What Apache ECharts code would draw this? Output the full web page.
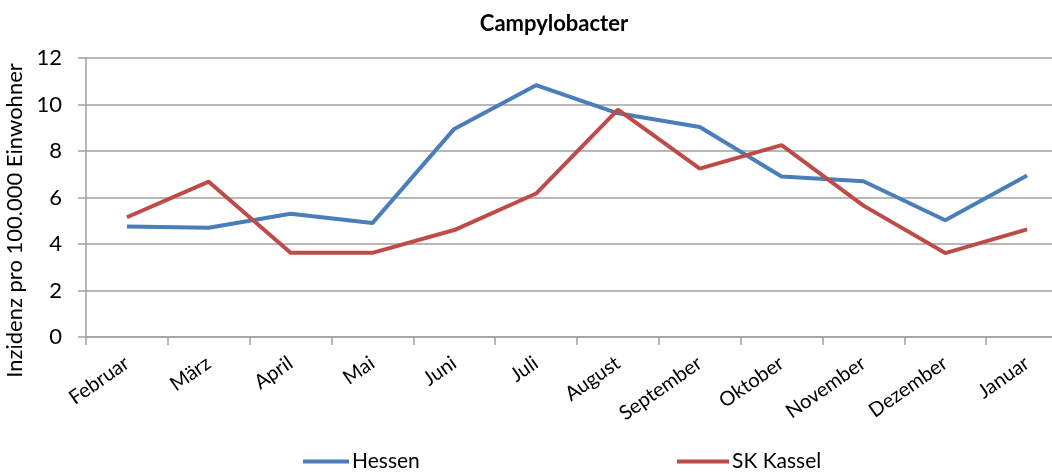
<!DOCTYPE html>
<html>
<head>
<meta charset="utf-8">
<script src="https://cdn.jsdelivr.net/npm/echarts@6/dist/echarts.min.js"></script>
<style>
  html, body { margin: 0; padding: 0; background: #fff; overflow: hidden; }
  /* the reference crops the last category on the right, so the canvas is wider than the page */
  #chart { width: 1068px; height: 472px; }
</style>
</head>
<body>
<div id="chart"></div>
<script>
var months = ['Februar', 'März', 'April', 'Mai', 'Juni', 'Juli', 'August', 'September', 'Oktober', 'November', 'Dezember', 'Januar'];
var hessen = [4.75, 4.7, 5.3, 4.9, 8.95, 10.83, 9.62, 9.03, 6.9, 6.7, 5.02, 6.95];
var kassel = [5.15, 6.68, 3.62, 3.62, 4.6, 6.17, 9.78, 7.24, 8.25, 5.65, 3.61, 4.63];
var yTicks = { min: 0, max: 12, interval: 2 };

var font = 'Lato, "Open Sans", sans-serif';
var chart = echarts.init(document.getElementById('chart'));

var option = {
    animation: false,
    textStyle: { fontFamily: font },
    title: {
        text: 'Campylobacter',
        left: 549,
        top: 8,
        textAlign: 'center',
        textStyle: { fontFamily: font, fontWeight: 'bold', fontSize: 22, color: '#000' }
    },
    legend: [{
        data: ['Hessen'],
        left: 298,
        top: 446,
        itemWidth: 46,
        itemHeight: 4,
        itemGap: 4,
        icon: 'rect',
        textStyle: { fontFamily: font, fontSize: 21, color: '#000', padding: [0, 0, 0, -2] }
    }, {
        data: ['SK Kassel'],
        left: 672,
        top: 446,
        itemWidth: 52,
        itemHeight: 4,
        icon: 'rect',
        textStyle: { fontFamily: font, fontSize: 21, color: '#000', padding: [0, 0, 0, -2] }
    }],
    grid: {
        left: 86,
        right: 0,
        top: 58,
        bottom: 135,
        outerBoundsMode: 'none'
    },
    xAxis: {
        type: 'category',
        data: months,
        boundaryGap: true,
        axisLine: { lineStyle: { color: '#a0a0a0', width: 1.5 } },
        axisTick: { show: true, length: 8, lineStyle: { color: '#a0a0a0', width: 1.5 } },
        axisLabel: {
            rotate: 35,
            margin: 24,
            fontSize: 20,
            color: '#000',
            fontFamily: font,
            interval: 0
        }
    },
    yAxis: {
        type: 'value',
        min: yTicks.min,
        max: yTicks.max,
        interval: yTicks.interval,
        name: 'Inzidenz pro 100.000 Einwohner',
        nameLocation: 'middle',
        nameGap: 58,
        nameTextStyle: { fontFamily: font, fontSize: 22, color: '#000', padding: [0, 46, 0, 0] },
        axisLine: { show: true, lineStyle: { color: '#a0a0a0', width: 1.5 } },
        axisTick: { show: true, length: 8, lineStyle: { color: '#a0a0a0', width: 1.5 } },
        axisLabel: { fontSize: 22, color: '#000', margin: 24, fontFamily: font },
        splitLine: { lineStyle: { color: '#a0a0a0', width: 1.5 } }
    },
    series: [{
        name: 'Hessen',
        type: 'line',
        data: hessen,
        symbol: 'none',
        color: '#4a7ebb',
        lineStyle: { width: 4, color: '#4a7ebb' }
    }, {
        name: 'SK Kassel',
        type: 'line',
        data: kassel,
        symbol: 'none',
        color: '#be4b48',
        lineStyle: { width: 4, color: '#be4b48' }
    }]
};
chart.setOption(option);
</script>
</body>
</html>
